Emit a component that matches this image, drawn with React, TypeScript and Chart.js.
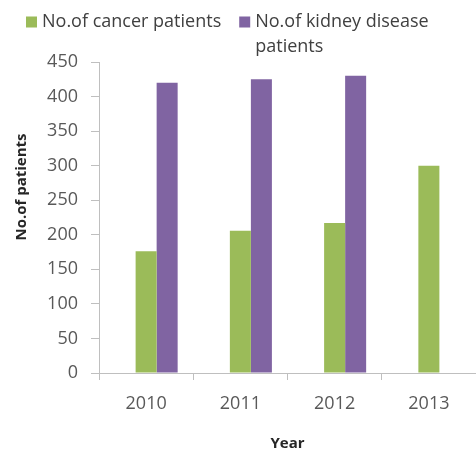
import React, { useEffect, useRef } from "react";
import { Chart, registerables } from "chart.js";

Chart.register(...registerables);

const years = ["2010", "2011", "2012", "2013"];
const cancerPatients = [176, 206, 217, 300];
const kidneyPatients: (number | null)[] = [420, 425, 430, null];
const spacerValues: (number | null)[] = [null, null, null, null];
const cancerLabel = ["No.of cancer patients"];
const kidneyLabel = ["No.of kidney disease", "patients"];
const yTitle = "No.of patients";
const xTitle = "Year";
const yMin = 0;
const yMax = 450;
const yStep = 50;

const FONT = "'Open Sans', sans-serif";

const yTitlePlugin = {
  id: "yTitlePlugin",
  afterDraw(chart: any) {
    const ctx = chart.ctx;
    ctx.save();
    ctx.translate(22, 187);
    ctx.rotate(-Math.PI / 2);
    ctx.textAlign = "center";
    ctx.textBaseline = "middle";
    ctx.font = `bold 15px ${FONT}`;
    ctx.fillStyle = "#262626";
    ctx.fillText(yTitle, 0, 0);
    ctx.restore();
  },
};

const legendPlugin = {
  id: "wrapLegend",
  afterDraw(chart: any) {
    const ctx = chart.ctx;
    ctx.save();
    ctx.font = `18px ${FONT}`;
    ctx.textAlign = "left";
    ctx.textBaseline = "middle";
    let x = 26;
    const y0 = 22;
    const lineH = 25;
    const box = 11;
    chart.data.datasets.forEach((ds: any, i: number) => {
      if (i === 0) return;
      const lines: string[] = Array.isArray(ds.legendText) ? ds.legendText : [String(ds.label)];
      ctx.fillStyle = ds.backgroundColor;
      ctx.fillRect(x, y0 - box / 2, box, box);
      const tx = x + box + 5;
      ctx.fillStyle = "#404040";
      let maxW = 0;
      lines.forEach((ln, k) => {
        ctx.fillText(ln, tx, y0 + k * lineH);
        maxW = Math.max(maxW, ctx.measureText(ln).width);
      });
      x = tx + maxW + 18;
    });
    ctx.restore();
  },
};

export default function App() {
  const ref = useRef<HTMLCanvasElement | null>(null);
  useEffect(() => {
    if (!ref.current) return;
    const chart = new Chart(ref.current, {
      type: "bar",
      data: {
        labels: years,
        datasets: [
          {
            label: "",
            data: spacerValues,
            backgroundColor: "rgba(0,0,0,0)",
          },
          {
            label: cancerLabel.join(" "),
            legendText: cancerLabel,
            data: cancerPatients,
            backgroundColor: "#9BBB59",
          } as any,
          {
            label: kidneyLabel.join(" "),
            legendText: kidneyLabel,
            data: kidneyPatients,
            backgroundColor: "#8064A2",
          } as any,
        ],
      },
      options: {
        animation: false,
        responsive: false,
        maintainAspectRatio: false,
        layout: { padding: { left: 12, right: 0, top: 62, bottom: 0 } },
        datasets: {
          bar: { barPercentage: 1, categoryPercentage: 0.669 },
        },
        plugins: {
          tooltip: { enabled: false },
          legend: { display: false },
        },
        scales: {
          x: {
            type: "category",
            offset: true,
            grid: {
              offset: true,
              drawOnChartArea: false,
              drawTicks: true,
              tickLength: 7,
              color: "#bfbfbf",
            },
            border: { color: "#bfbfbf" },
            ticks: {
              color: "#595959",
              padding: 13,
              font: { family: FONT, size: 18 },
            },
            title: {
              display: true,
              text: xTitle,
              color: "#262626",
              font: { family: FONT, size: 15, weight: "bold" },
              padding: { top: 0, bottom: 0 },
            },
            afterFit: (scale: any) => {
              scale.height = 80;
            },
          },
          y: {
            min: yMin,
            max: yMax,
            ticks: {
              stepSize: yStep,
              color: "#595959",
              padding: 13,
              font: { family: FONT, size: 18 },
            },
            grid: {
              drawOnChartArea: false,
              drawTicks: true,
              tickLength: 8,
              color: "#bfbfbf",
            },
            border: { color: "#bfbfbf" },
            afterFit: (scale: any) => {
              scale.width = 87;
            },
          },
        },
      },
      plugins: [yTitlePlugin, legendPlugin],
    });
    return () => chart.destroy();
  }, []);
  return (
    <div style={{ position: "absolute", left: 0, top: 0, width: 476, height: 453, background: "#fff" }}>
      <canvas ref={ref} width={476} height={453} style={{ display: "block", width: 476, height: 453 }} />
    </div>
  );
}
